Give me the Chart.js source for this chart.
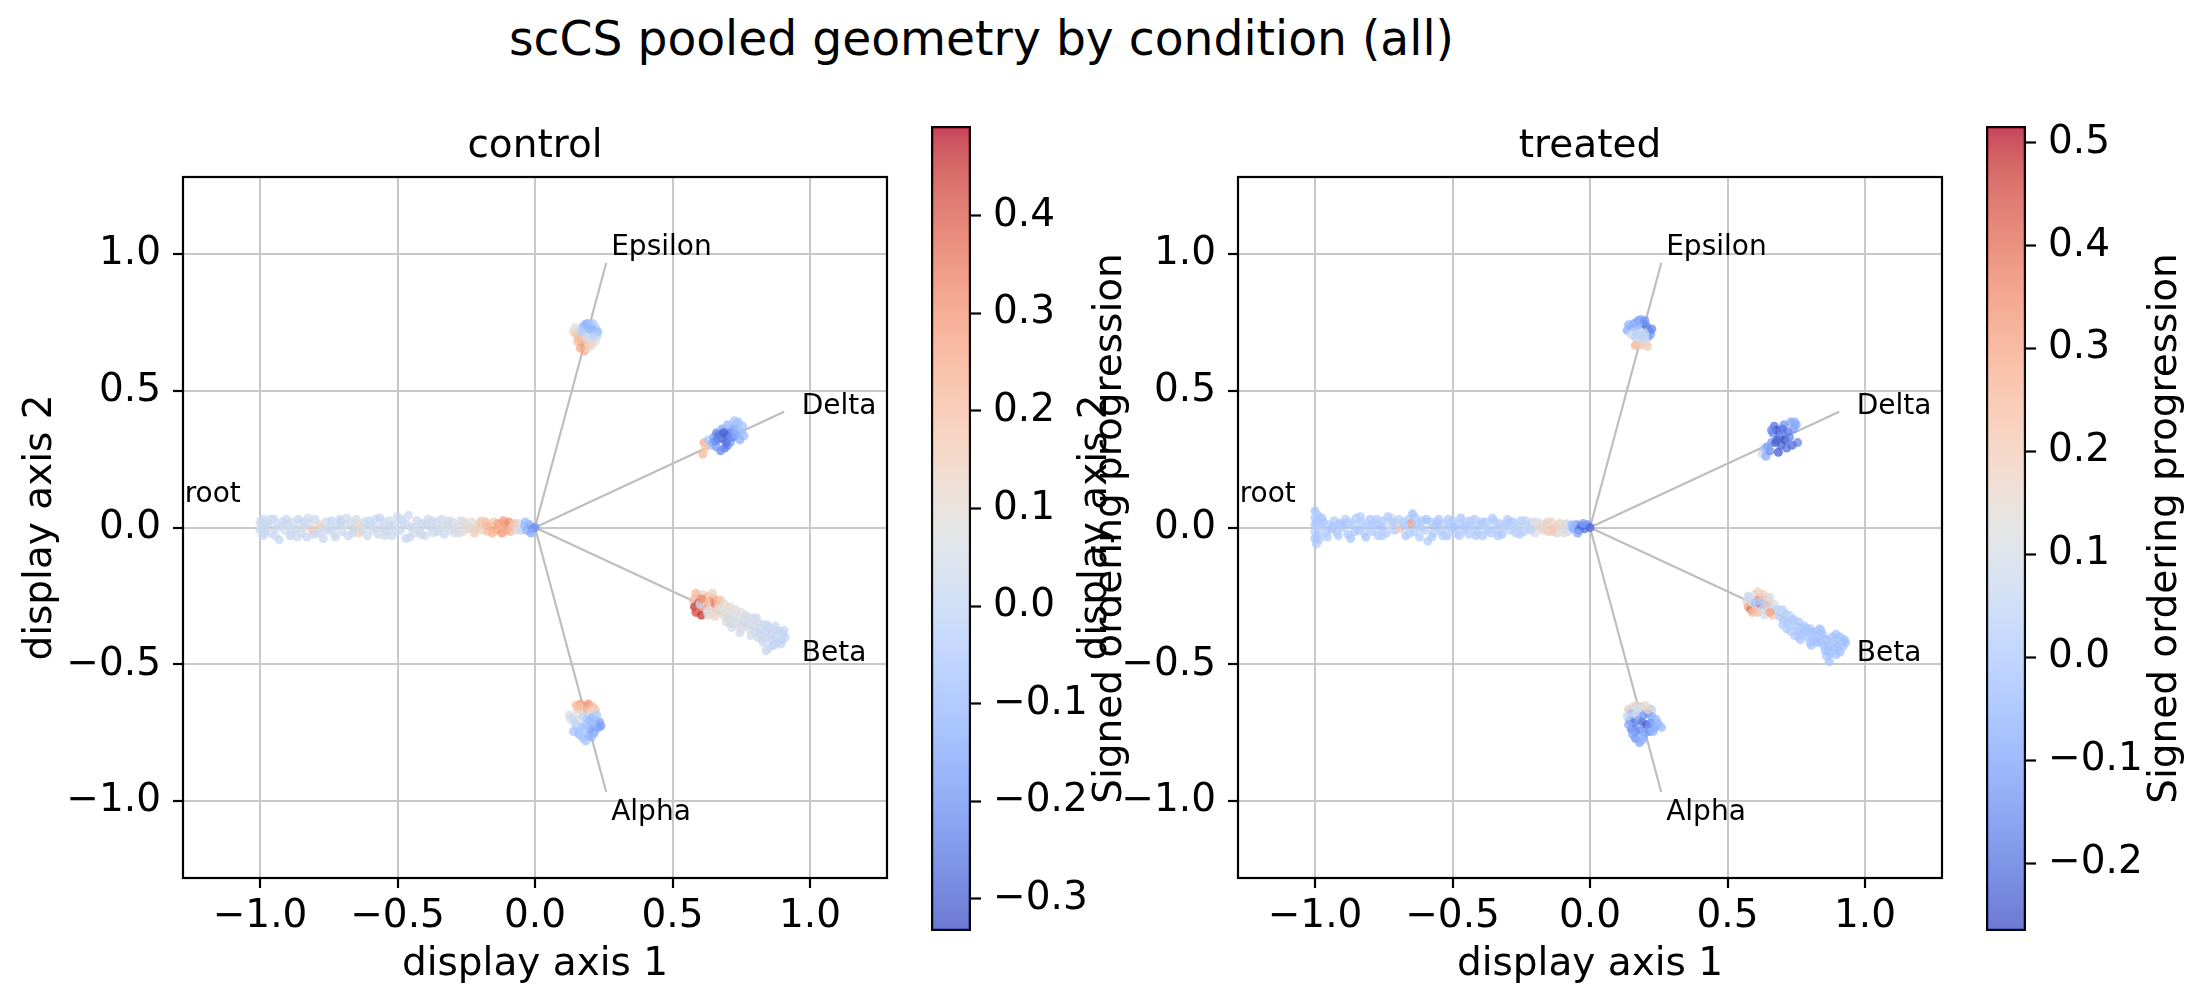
<!DOCTYPE html>
<html>
<head>
<meta charset="utf-8">
<script src="https://cdn.jsdelivr.net/npm/chart.js@4.4.1/dist/chart.umd.min.js"></script>
<style>
  html, body { margin: 0; padding: 0; background: #fff; }
  body { width: 2209px; height: 1007px; position: relative; overflow: hidden; font-family: 'DejaVu Sans'; }
  .box { position: absolute; top: 0; height: 1007px; }
  #suptitle { position: absolute; left: 509px; top: 15px; font-size: 47.2px; line-height: 47px; color: #000; white-space: nowrap; }
</style>
</head>
<body>
<div id="suptitle">scCS pooled geometry by condition (all)</div>
<div class="box" style="left:0;width:900px"><canvas id="ctrlPlot"></canvas></div>
<div class="box" style="left:931px;width:240px"><canvas id="ctrlBar"></canvas></div>
<div class="box" style="left:1055px;width:900px"><canvas id="trtPlot"></canvas></div>
<div class="box" style="left:1986px;width:223px"><canvas id="trtBar"></canvas></div>
<script>
// branches of the trajectory tree (end points and label anchors, display units)
const branchNames = ['root', 'Alpha', 'Beta', 'Delta', 'Epsilon'];
const branchEndX = [-1.0, 0.259, 0.906, 0.906, 0.259];
const branchEndY = [0.0, -0.966, -0.423, 0.423, 0.966];
const labelX = [-1.274, 0.277, 0.970, 0.970, 0.277];
const labelY = [0.12, -1.042, -0.462, 0.44, 1.02];

const axisTicks = [-1.0, -0.5, 0.0, 0.5, 1.0];
const ctrlRange = [-0.333, 0.492];
const trtRange = [-0.266, 0.516];
const ctrlBarTicks = [-0.3, -0.2, -0.1, 0.0, 0.1, 0.2, 0.3, 0.4];
const trtBarTicks = [-0.2, -0.1, 0.0, 0.1, 0.2, 0.3, 0.4, 0.5];

// cells: [display axis 1, display axis 2, signed ordering progression]
const ctrlRoot = [
  [-1.00,0.02,0.02],[-1.00,-0.01,0.03],[-0.99,0.03,0.01],[-0.99,-0.03,0.02],[-0.98,0.00,0.04],[-0.97,0.015,0.01],
  [-0.96,-0.02,0.03],[-0.95,0.03,0.00],[-0.94,0.00,0.02],[-0.93,-0.045,0.01],[-0.92,0.02,0.03],[-0.91,-0.01,0.05],
  [-0.90,0.01,0.02],[-0.89,-0.03,0.00],[-0.88,0.02,0.04],[-0.87,-0.005,0.02],[-0.86,0.03,0.01],[-0.85,-0.02,0.03],
  [-0.84,0.00,0.06],[-0.83,-0.035,0.01],[-0.82,0.015,0.02],[-0.81,-0.01,0.18],[-0.80,0.03,0.03],[-0.79,-0.02,0.02],
  [-0.78,0.00,0.05],[-0.77,-0.04,0.01],[-0.76,0.02,0.03],[-0.75,-0.01,0.02],[-0.74,0.025,0.00],[-0.73,-0.025,0.04],
  [-0.72,0.005,0.02],[-0.71,0.03,0.01],[-0.70,-0.015,0.03],[-0.69,0.01,0.06],[-0.68,-0.03,0.02],[-0.67,0.02,0.03],
  [-0.66,-0.005,0.01],[-0.65,0.03,0.04],[-0.64,-0.02,0.15],[-0.63,0.00,0.10],[-0.62,0.02,0.02],[-0.61,-0.03,0.03],
  [-0.60,0.01,0.01],[-0.59,-0.01,0.05],[-0.58,0.03,0.02],[-0.57,-0.025,0.03],[-0.56,0.00,0.04],[-0.55,0.02,0.02],
  [-0.54,-0.015,0.01],[-0.53,0.025,0.03],[-0.52,-0.03,0.02],[-0.51,0.01,0.05],[-0.50,0.04,0.03],[-0.49,-0.01,0.02],
  [-0.48,0.02,0.04],[-0.47,-0.04,0.01],[-0.46,0.045,0.03],[-0.45,0.00,0.02],[-0.44,-0.02,0.06],[-0.43,0.025,0.02],
  [-0.42,-0.01,0.03],[-0.41,0.015,0.01],[-0.40,-0.03,0.04],[-0.39,0.03,0.02],[-0.38,0.00,0.03],[-0.37,-0.02,0.05],
  [-0.36,0.02,0.02],[-0.35,-0.005,0.04],[-0.34,0.03,0.03],[-0.33,-0.025,0.02],[-0.32,0.01,0.05],[-0.31,-0.01,0.04],
  [-0.30,0.02,0.06],[-0.29,-0.02,0.03],[-0.28,0.005,0.08],[-0.27,0.025,0.05],[-0.26,-0.015,0.10],[-0.25,0.01,0.07],
  [-0.24,-0.005,0.12],[-0.23,0.02,0.09],[-0.22,-0.02,0.15],[-0.21,0.00,0.11],[-0.20,0.015,0.18],[-0.19,-0.01,0.14],
  [-0.18,0.02,0.22],[-0.17,-0.015,0.19],[-0.16,0.005,0.25],[-0.15,0.02,0.17],[-0.14,-0.01,0.27],[-0.13,0.01,0.22],
  [-0.12,-0.02,0.29],[-0.11,0.015,0.24],[-0.10,0.00,0.30],[-0.09,-0.015,0.21],[-0.08,0.01,0.26],[-0.07,-0.005,0.12],
  [-0.06,0.015,0.05],[-0.05,-0.01,-0.02],[-0.04,0.005,-0.08],[-0.03,-0.01,-0.12],[-0.02,0.01,-0.15],[-0.01,-0.005,-0.18],
  [0.00,0.00,-0.20],[-0.015,-0.02,-0.14],[-0.035,0.02,-0.10],
  [-0.995,0.00,0.02],[-0.985,-0.02,0.01],[-0.965,0.03,0.03],[-0.945,-0.03,0.02],[-0.925,0.005,0.04],[-0.905,0.03,0.01],
  [-0.885,-0.01,0.03],[-0.865,-0.035,0.02],[-0.845,0.02,0.01],[-0.825,0.035,0.03],[-0.805,-0.025,0.02],[-0.785,0.01,0.14],
  [-0.765,-0.01,0.04],[-0.745,0.00,0.02],[-0.725,-0.035,0.03],[-0.705,0.02,0.01],[-0.685,0.035,0.04],[-0.665,-0.02,0.02],
  [-0.645,0.01,0.12],[-0.625,-0.01,0.03],[-0.605,0.025,0.02],[-0.585,0.00,0.04],[-0.565,0.035,0.01],[-0.545,-0.03,0.03],
  [-0.525,0.005,0.02],[-0.505,-0.015,0.04],[-0.485,0.03,0.02],[-0.465,0.01,0.03],[-0.455,-0.035,0.02],[-0.435,0.00,0.05],
  [-0.415,-0.025,0.02],[-0.395,0.01,0.03],[-0.375,0.025,0.04],[-0.355,-0.015,0.02],[-0.335,0.005,0.05],[-0.315,0.025,0.03],
  [-0.295,-0.005,0.06],[-0.275,-0.02,0.07],[-0.255,0.02,0.09],[-0.235,0.00,0.10],[-0.215,-0.01,0.13],[-0.195,0.025,0.16],
  [-0.175,0.005,0.21],[-0.155,-0.02,0.23],[-0.135,0.015,0.26],[-0.115,0.025,0.28],[-0.105,-0.01,0.25],[-0.095,0.02,0.31],
  [-0.085,0.00,0.20],[-0.075,0.015,0.15],[-0.065,-0.01,0.06]
];
const ctrlEpsilon = [
  [0.14,0.715,0.12],[0.15,0.705,0.18],[0.16,0.72,0.05],[0.17,0.73,-0.05],[0.18,0.74,-0.10],[0.19,0.745,-0.12],
  [0.20,0.74,-0.08],[0.21,0.745,-0.06],[0.22,0.73,-0.04],[0.23,0.715,-0.02],[0.225,0.70,0.00],[0.21,0.72,-0.14],
  [0.19,0.725,-0.11],[0.18,0.71,-0.07],[0.20,0.71,-0.03],[0.17,0.70,0.08],[0.16,0.69,0.22],[0.17,0.675,0.28],
  [0.18,0.665,0.30],[0.19,0.68,0.15],[0.20,0.69,0.10],[0.21,0.685,0.05],[0.22,0.68,0.08],[0.18,0.645,0.25],
  [0.19,0.655,0.12],[0.205,0.665,0.14],[0.175,0.69,0.20],[0.195,0.70,0.02],
  [0.145,0.73,0.08],[0.155,0.68,0.20],[0.165,0.655,0.26],[0.225,0.715,-0.09],[0.20,0.725,-0.10],[0.185,0.695,0.05],
  [0.215,0.70,-0.02],[0.17,0.715,-0.03]
];
const ctrlDelta = [
  [0.615,0.31,0.25],[0.61,0.268,0.22],[0.63,0.32,-0.05],[0.64,0.30,-0.08],[0.65,0.33,-0.15],[0.66,0.345,-0.22],
  [0.67,0.34,-0.25],[0.68,0.325,-0.28],[0.69,0.35,-0.26],[0.70,0.335,-0.27],[0.71,0.345,-0.22],[0.72,0.36,-0.18],
  [0.73,0.375,-0.12],[0.74,0.385,-0.08],[0.735,0.355,-0.10],[0.75,0.35,-0.06],[0.76,0.335,-0.09],[0.745,0.32,-0.13],
  [0.70,0.30,-0.20],[0.69,0.29,-0.24],[0.675,0.28,-0.21],[0.66,0.295,-0.18],[0.645,0.31,-0.12],[0.71,0.31,-0.16],
  [0.72,0.33,-0.19],[0.68,0.36,-0.14],[0.70,0.375,-0.11],[0.725,0.39,-0.07],
  [0.62,0.29,0.18],[0.655,0.315,-0.20],[0.685,0.345,-0.29],[0.695,0.31,-0.26],[0.715,0.33,-0.21],[0.73,0.34,-0.14],
  [0.755,0.37,-0.07],[0.665,0.325,-0.23]
];
const ctrlBeta = [
  [0.575,-0.265,0.20],[0.58,-0.29,0.45],[0.585,-0.31,0.42],[0.59,-0.255,0.15],[0.595,-0.275,0.40],[0.60,-0.30,0.35],
  [0.605,-0.32,0.45],[0.61,-0.245,0.10],[0.615,-0.265,0.25],[0.62,-0.285,0.30],[0.625,-0.305,0.05],[0.63,-0.25,0.20],
  [0.635,-0.27,0.28],[0.64,-0.29,0.12],[0.645,-0.31,0.08],[0.65,-0.26,0.30],[0.655,-0.28,0.35],[0.66,-0.30,0.15],
  [0.665,-0.27,0.22],[0.67,-0.29,0.10],[0.60,-0.28,0.02],[0.62,-0.265,0.18],[0.645,-0.24,0.14],[0.675,-0.265,0.18],
  [0.68,-0.30,0.08],[0.69,-0.28,0.10],[0.70,-0.31,0.07],[0.70,-0.33,0.09],[0.71,-0.29,0.11],[0.72,-0.32,0.06],
  [0.72,-0.34,0.08],[0.73,-0.30,0.09],[0.74,-0.33,0.05],[0.74,-0.35,0.07],[0.75,-0.31,0.08],[0.76,-0.34,0.06],
  [0.76,-0.36,0.04],[0.77,-0.325,0.05],[0.78,-0.35,0.04],[0.78,-0.37,0.06],[0.79,-0.33,0.03],[0.80,-0.36,0.05],
  [0.80,-0.38,0.03],[0.81,-0.345,0.04],[0.82,-0.37,0.02],[0.82,-0.39,0.03],[0.83,-0.355,0.03],[0.84,-0.38,0.01],
  [0.84,-0.40,0.02],[0.85,-0.365,0.02],[0.86,-0.39,0.01],[0.86,-0.41,0.00],[0.87,-0.375,0.02],[0.88,-0.40,0.00],
  [0.88,-0.42,0.01],[0.89,-0.38,0.01],[0.90,-0.41,0.00],[0.90,-0.39,0.02],[0.91,-0.40,0.00],[0.87,-0.43,0.01],
  [0.85,-0.44,0.02],[0.83,-0.42,0.03],[0.81,-0.40,0.04],[0.75,-0.37,0.06],[0.73,-0.355,0.07],[0.71,-0.35,0.05],
  [0.585,-0.24,0.22],[0.605,-0.26,0.32],[0.63,-0.32,0.10],[0.655,-0.325,0.12],[0.685,-0.32,0.09],[0.695,-0.345,0.06],
  [0.715,-0.365,0.05],[0.745,-0.385,0.05],[0.765,-0.32,0.07],[0.785,-0.395,0.03],[0.805,-0.33,0.04],[0.825,-0.41,0.02],
  [0.845,-0.355,0.02],[0.865,-0.43,0.01],[0.875,-0.36,0.02],[0.895,-0.425,0.00],[0.905,-0.375,0.01],[0.84,-0.45,0.02]
];
const ctrlAlpha = [
  [0.15,-0.65,0.22],[0.165,-0.645,0.28],[0.18,-0.65,0.25],[0.195,-0.645,0.30],[0.21,-0.655,0.20],[0.22,-0.665,0.18],
  [0.155,-0.665,0.15],[0.17,-0.67,0.10],[0.19,-0.665,0.24],[0.205,-0.67,0.12],[0.125,-0.685,0.05],[0.14,-0.695,0.02],
  [0.16,-0.70,0.08],[0.175,-0.69,0.00],[0.19,-0.70,-0.05],[0.205,-0.695,-0.10],[0.22,-0.70,-0.08],[0.235,-0.71,-0.15],
  [0.23,-0.73,-0.18],[0.215,-0.725,-0.12],[0.20,-0.735,-0.14],[0.185,-0.72,-0.06],[0.17,-0.73,-0.09],[0.15,-0.725,-0.04],
  [0.14,-0.745,-0.07],[0.16,-0.755,-0.10],[0.175,-0.77,-0.08],[0.195,-0.76,-0.13],[0.215,-0.75,-0.16],[0.185,-0.78,-0.06],
  [0.13,-0.70,0.04],[0.145,-0.715,0.00],[0.225,-0.685,-0.05],[0.24,-0.725,-0.17],[0.205,-0.765,-0.11],[0.16,-0.655,0.20],
  [0.20,-0.705,-0.09],[0.17,-0.745,-0.05]
];

const trtRoot = [
  [-1.00,0.06,-0.02],[-1.00,0.035,0.00],[-1.00,0.01,-0.01],[-1.00,-0.015,0.01],[-1.00,-0.04,-0.02],[-0.995,-0.06,0.00],
  [-0.99,0.045,0.01],[-0.99,-0.03,-0.01],[-0.98,0.00,0.02],[-0.97,0.02,-0.01],[-0.96,-0.02,0.00],[-0.95,0.01,0.02],
  [-0.94,-0.005,-0.01],[-0.93,0.025,0.01],[-0.92,-0.02,0.00],[-0.91,0.015,-0.02],[-0.90,0.00,0.01],[-0.89,0.03,0.02],
  [-0.88,-0.025,0.00],[-0.87,-0.04,-0.01],[-0.86,0.01,0.02],[-0.85,0.035,0.01],[-0.84,-0.01,-0.01],[-0.83,0.02,0.00],
  [-0.82,-0.02,0.03],[-0.81,0.005,0.01],[-0.80,0.03,-0.01],[-0.79,-0.015,0.00],[-0.78,0.015,0.02],[-0.77,-0.03,0.01],
  [-0.76,0.00,-0.02],[-0.75,0.025,0.00],[-0.74,-0.02,0.02],[-0.73,0.01,0.08],[-0.72,0.035,0.12],[-0.71,-0.01,0.01],
  [-0.70,0.015,0.10],[-0.69,-0.005,0.22],[-0.68,0.02,0.02],[-0.67,-0.03,0.00],[-0.66,0.03,0.01],[-0.65,0.015,0.32],
  [-0.645,0.05,-0.03],[-0.64,-0.015,0.02],[-0.63,0.01,0.00],[-0.62,-0.035,0.01],[-0.61,0.025,-0.01],[-0.60,-0.01,0.03],
  [-0.59,-0.05,0.01],[-0.58,0.02,0.00],[-0.57,-0.02,0.02],[-0.56,0.005,-0.01],[-0.55,0.03,0.01],[-0.54,-0.015,0.00],
  [-0.53,0.015,0.02],[-0.52,-0.03,-0.01],[-0.51,0.00,0.01],[-0.50,0.025,0.00],[-0.49,-0.02,0.02],[-0.48,0.01,0.01],
  [-0.47,0.035,-0.01],[-0.46,-0.01,0.00],[-0.45,0.02,0.02],[-0.44,-0.025,0.01],[-0.43,0.005,0.00],[-0.42,0.03,0.01],
  [-0.41,-0.015,-0.01],[-0.40,0.01,0.02],[-0.39,-0.03,0.00],[-0.38,0.02,0.01],[-0.37,0.00,0.03],[-0.36,-0.02,0.01],
  [-0.35,0.025,0.00],[-0.34,-0.005,0.02],[-0.33,0.015,0.01],[-0.32,-0.025,0.00],[-0.31,0.01,0.02],[-0.30,0.03,0.01],
  [-0.29,-0.01,0.03],[-0.28,0.02,0.00],[-0.27,-0.02,0.02],[-0.26,0.005,0.04],[-0.25,0.025,0.01],[-0.24,-0.015,0.03],
  [-0.23,0.01,0.06],[-0.22,-0.005,0.02],[-0.21,0.02,0.08],[-0.20,-0.02,0.10],[-0.19,0.005,0.14],[-0.18,0.015,0.12],
  [-0.17,-0.01,0.18],[-0.16,0.01,0.15],[-0.15,-0.015,0.20],[-0.14,0.02,0.17],[-0.13,0.00,0.22],[-0.12,-0.02,0.14],
  [-0.11,0.015,0.19],[-0.10,-0.005,0.12],[-0.09,0.01,0.16],[-0.08,-0.015,0.08],[-0.07,0.005,0.02],[-0.06,-0.005,-0.08],
  [-0.05,0.01,-0.15],[-0.04,-0.01,-0.18],[-0.03,0.005,-0.22],[-0.02,-0.005,-0.20],[-0.01,0.01,-0.16],[0.00,0.00,-0.22],
  [-0.025,0.015,-0.12],[-0.045,-0.02,-0.10],
  [-0.995,0.02,0.00],[-0.985,-0.045,0.01],[-0.975,0.035,-0.01],[-0.955,-0.035,0.01],[-0.935,0.00,0.00],[-0.915,-0.03,0.02],
  [-0.895,0.015,-0.01],[-0.875,0.02,0.01],[-0.855,-0.015,0.00],[-0.835,0.04,0.02],[-0.815,-0.035,-0.01],[-0.795,0.01,0.01],
  [-0.775,0.03,0.00],[-0.755,-0.03,0.02],[-0.735,0.04,0.01],[-0.715,0.02,0.00],[-0.695,0.03,0.03],[-0.675,0.005,0.01],
  [-0.655,-0.02,0.02],[-0.635,0.035,0.00],[-0.615,0.00,0.02],[-0.595,0.03,-0.01],[-0.575,-0.035,0.01],[-0.555,0.02,0.00],
  [-0.535,-0.03,0.02],[-0.515,0.03,0.01],[-0.495,0.00,-0.01],[-0.475,-0.03,0.01],[-0.455,0.005,0.00],[-0.435,0.025,0.02],
  [-0.415,-0.03,0.01],[-0.395,0.02,0.00],[-0.375,-0.01,0.02],[-0.355,0.035,0.01],[-0.335,-0.03,0.00],[-0.315,0.00,0.02],
  [-0.295,0.02,0.01],[-0.275,0.00,0.03],[-0.255,-0.025,0.02],[-0.235,0.025,0.04],[-0.215,-0.01,0.06],[-0.195,0.02,0.12],
  [-0.175,0.00,0.16],[-0.155,0.02,0.18],[-0.135,-0.015,0.20],[-0.115,0.005,0.15],[-0.095,-0.02,0.13],[-0.085,0.015,0.10],
  [-0.065,0.01,-0.04]
];
const trtEpsilon = [
  [0.135,0.72,-0.08],[0.15,0.73,-0.05],[0.16,0.745,-0.10],[0.175,0.755,-0.12],[0.185,0.76,-0.09],[0.195,0.745,-0.15],
  [0.205,0.735,-0.18],[0.215,0.72,-0.14],[0.22,0.705,-0.12],[0.21,0.695,-0.10],[0.17,0.72,-0.02],[0.185,0.71,0.10],
  [0.20,0.71,0.05],[0.15,0.705,0.08],[0.165,0.695,0.02],[0.18,0.685,0.12],[0.195,0.69,0.00],[0.205,0.675,0.15],
  [0.165,0.665,0.28],[0.21,0.66,0.18],[0.19,0.675,0.10],[0.175,0.74,-0.06],
  [0.14,0.74,-0.07],[0.20,0.755,-0.13],[0.225,0.725,-0.16],[0.17,0.705,0.04],[0.185,0.665,0.20],[0.20,0.695,0.06]
];
const trtDelta = [
  [0.625,0.27,0.08],[0.635,0.29,-0.02],[0.64,0.26,-0.08],[0.655,0.28,-0.15],[0.66,0.31,-0.12],[0.665,0.345,-0.14],
  [0.67,0.37,-0.20],[0.68,0.355,-0.26],[0.69,0.33,-0.18],[0.695,0.30,-0.22],[0.70,0.345,-0.15],[0.71,0.32,-0.27],
  [0.715,0.29,-0.20],[0.72,0.35,-0.18],[0.73,0.385,-0.10],[0.74,0.36,-0.12],[0.75,0.375,-0.09],[0.755,0.31,-0.16],
  [0.735,0.30,-0.21],[0.685,0.275,-0.24],[0.675,0.31,-0.23],[0.705,0.375,-0.13],
  [0.645,0.295,-0.10],[0.68,0.32,-0.22],[0.70,0.36,-0.19],[0.725,0.33,-0.17],[0.745,0.385,-0.08],[0.66,0.355,-0.16]
];
const trtBeta = [
  [0.57,-0.27,0.10],[0.575,-0.29,0.30],[0.58,-0.255,0.05],[0.585,-0.30,0.40],[0.59,-0.275,0.15],[0.60,-0.245,0.12],
  [0.605,-0.29,0.20],[0.61,-0.31,0.25],[0.615,-0.26,0.35],[0.62,-0.28,0.45],[0.625,-0.30,0.08],[0.63,-0.245,0.20],
  [0.635,-0.265,0.30],[0.64,-0.285,0.00],[0.645,-0.305,0.18],[0.65,-0.275,0.25],[0.655,-0.255,0.10],[0.66,-0.295,0.05],
  [0.665,-0.32,0.22],[0.67,-0.28,0.12],[0.60,-0.275,-0.02],[0.625,-0.27,0.02],[0.645,-0.255,0.15],
  [0.68,-0.30,0.04],[0.69,-0.325,0.02],[0.70,-0.30,0.03],[0.705,-0.34,0.01],[0.71,-0.315,0.02],[0.72,-0.345,0.00],
  [0.725,-0.32,0.03],[0.73,-0.36,0.01],[0.74,-0.335,0.00],[0.75,-0.36,0.02],[0.755,-0.38,-0.01],[0.76,-0.345,0.00],
  [0.77,-0.37,0.01],[0.775,-0.39,-0.02],[0.78,-0.36,0.00],[0.79,-0.38,-0.01],[0.795,-0.40,0.00],[0.80,-0.37,-0.02],
  [0.81,-0.39,0.00],[0.815,-0.41,-0.01],[0.82,-0.38,-0.02],[0.83,-0.40,0.00],[0.84,-0.42,-0.02],[0.845,-0.39,-0.01],
  [0.85,-0.43,0.00],[0.86,-0.41,-0.02],[0.865,-0.45,-0.01],[0.87,-0.43,-0.03],[0.88,-0.40,-0.01],[0.885,-0.44,-0.02],
  [0.89,-0.415,0.00],[0.90,-0.45,-0.01],[0.905,-0.43,-0.03],[0.91,-0.40,-0.02],[0.92,-0.435,-0.01],[0.93,-0.42,-0.02],
  [0.86,-0.47,-0.01],[0.87,-0.49,-0.02],[0.84,-0.375,-0.01],[0.895,-0.39,-0.02],[0.76,-0.40,0.01],[0.73,-0.38,0.02],
  [0.80,-0.42,-0.01],
  [0.575,-0.25,0.08],[0.59,-0.31,0.25],[0.61,-0.235,0.18],[0.635,-0.32,0.10],[0.655,-0.31,0.30],[0.69,-0.30,0.05],
  [0.70,-0.355,0.02],[0.715,-0.37,0.01],[0.735,-0.34,0.02],[0.745,-0.395,0.00],[0.765,-0.41,0.00],[0.785,-0.37,-0.01],
  [0.805,-0.43,-0.01],[0.825,-0.42,-0.02],[0.835,-0.37,-0.01],[0.855,-0.45,-0.02],[0.875,-0.46,-0.02],[0.895,-0.465,-0.01],
  [0.91,-0.455,-0.02],[0.925,-0.41,-0.03]
];
const trtAlpha = [
  [0.14,-0.665,0.22],[0.155,-0.655,0.10],[0.17,-0.65,0.20],[0.185,-0.655,0.05],[0.20,-0.65,0.15],[0.215,-0.66,0.12],
  [0.225,-0.665,0.05],[0.15,-0.68,-0.05],[0.165,-0.685,0.08],[0.18,-0.675,0.02],[0.195,-0.685,-0.10],[0.21,-0.68,-0.14],
  [0.225,-0.69,-0.08],[0.24,-0.70,-0.05],[0.25,-0.72,-0.06],[0.26,-0.73,-0.04],[0.145,-0.705,-0.15],[0.16,-0.715,-0.20],
  [0.175,-0.705,-0.12],[0.19,-0.71,-0.18],[0.205,-0.72,-0.22],[0.22,-0.715,-0.15],[0.235,-0.73,-0.10],[0.15,-0.735,-0.18],
  [0.165,-0.745,-0.12],[0.18,-0.74,-0.15],[0.20,-0.75,-0.10],[0.215,-0.745,-0.13],[0.165,-0.77,-0.14],[0.18,-0.785,-0.10],
  [0.195,-0.765,-0.08],
  [0.135,-0.69,0.05],[0.14,-0.72,-0.08],[0.245,-0.715,-0.04],[0.23,-0.745,-0.07],[0.19,-0.775,-0.06],[0.21,-0.665,0.18],
  [0.175,-0.66,0.12],[0.155,-0.755,-0.10]
];

// matplotlib "coolwarm"
const coolwarm = [
  [59,76,192],[68,90,204],[77,104,215],[87,117,225],[98,130,234],[108,142,241],[119,154,247],[130,165,251],
  [141,176,254],[152,185,255],[163,194,255],[174,201,253],[184,208,249],[194,213,244],[204,217,238],[213,219,230],
  [221,221,221],[229,216,209],[236,211,197],[241,204,184],[245,196,172],[247,187,159],[247,177,147],[247,166,134],
  [244,154,123],[241,141,111],[236,127,99],[229,112,89],[222,96,78],[213,80,69],[203,62,56],[192,40,47],[180,4,38]
];
const ALPHA = 0.75;

function cmap(t, a) {
  t = Math.min(1, Math.max(0, t));
  const n = coolwarm.length - 1;
  const f = t * n;
  const i = Math.min(n - 1, Math.floor(f));
  const u = f - i;
  const c0 = coolwarm[i], c1 = coolwarm[i + 1];
  const r = Math.round(c0[0] + (c1[0] - c0[0]) * u);
  const g = Math.round(c0[1] + (c1[1] - c0[1]) * u);
  const b = Math.round(c0[2] + (c1[2] - c0[2]) * u);
  return `rgba(${r},${g},${b},${a})`;
}

function fmt(v) {
  const s = Math.abs(v).toFixed(1);
  return v < -1e-9 ? '\u2212' + s : s;
}

Chart.defaults.font.family = "'DejaVu Sans'";
Chart.defaults.color = '#000';

// black outline round the plot area
const framePlugin = {
  id: 'frame',
  afterDraw(chart) {
    const a = chart.chartArea, ctx = chart.ctx;
    ctx.save();
    ctx.strokeStyle = '#000';
    ctx.lineWidth = 2.2;
    ctx.strokeRect(a.left, a.top, a.right - a.left, a.bottom - a.top);
    ctx.restore();
  }
};

// branch names next to the ends of the lines
const branchLabelPlugin = {
  id: 'branchLabels',
  afterDatasetsDraw(chart) {
    const ctx = chart.ctx, xs = chart.scales.x, ys = chart.scales.y;
    ctx.save();
    ctx.font = "28px 'DejaVu Sans'";
    ctx.fillStyle = '#000';
    ctx.textAlign = 'left';
    ctx.textBaseline = 'middle';
    branchNames.forEach((name, i) => {
      ctx.fillText(name, xs.getPixelForValue(labelX[i]), ys.getPixelForValue(labelY[i]));
    });
    ctx.restore();
  }
};

// colorbar label, reading bottom to top
const cbLabelPlugin = {
  id: 'cbLabel',
  afterDraw(chart, args, opts) {
    const a = chart.chartArea, ctx = chart.ctx;
    ctx.save();
    ctx.translate(a.right + opts.offset, (a.top + a.bottom) / 2);
    ctx.rotate(-Math.PI / 2);
    ctx.font = "39px 'DejaVu Sans'";
    ctx.fillStyle = '#000';
    ctx.textAlign = 'center';
    ctx.textBaseline = 'middle';
    ctx.fillText(opts.text, 0, 0);
    ctx.restore();
  }
};

function scatterChart(id, title, pts, range) {
  const [vmin, vmax] = range;
  const lines = branchNames.map((name, i) => ({
    label: name,
    data: [{x: 0, y: 0}, {x: branchEndX[i], y: branchEndY[i]}],
    showLine: true,
    borderColor: 'rgb(190,190,190)',
    borderWidth: 2.2,
    pointRadius: 0,
    order: 2
  }));
  return new Chart(document.getElementById(id), {
    type: 'scatter',
    data: {
      datasets: [{
        label: title,
        data: pts.map(p => ({x: p[0], y: p[1]})),
        backgroundColor: pts.map(p => cmap((p[2] - vmin) / (vmax - vmin), ALPHA)),
        pointRadius: 4.5,
        pointHoverRadius: 4.5,
        pointBorderWidth: 0,
        order: 1
      }, ...lines]
    },
    options: {
      responsive: true,
      maintainAspectRatio: false,
      animation: false,
      devicePixelRatio: 1,
      events: [],
      layout: {padding: {top: 123.1, left: 0, right: 13, bottom: 0}},
      plugins: {
        legend: {display: false},
        tooltip: {enabled: false},
        title: {
          display: true, text: title, fullSize: false, color: '#000',
          font: {size: 39, weight: 'normal'}, padding: {top: 0, bottom: 7.1}
        }
      },
      scales: {
        x: {
          type: 'linear', position: 'bottom', min: -1.28, max: 1.28,
          afterBuildTicks: s => { s.ticks = axisTicks.map(v => ({value: v})); },
          afterFit: s => { s.height = 129; s.paddingLeft = 0; s.paddingRight = 0; },
          ticks: {padding: 5, font: {size: 39}, color: '#000', callback: fmt, maxRotation: 0, autoSkip: false},
          grid: {color: '#c8c8c8', lineWidth: 2, drawTicks: true, tickLength: 10, tickColor: '#000', tickWidth: 2.2},
          border: {display: false},
          title: {display: true, text: 'display axis 1', color: '#000', font: {size: 39}, padding: {top: 0, bottom: 19.1}}
        },
        y: {
          type: 'linear', position: 'left', min: -1.28, max: 1.28,
          afterBuildTicks: s => { s.ticks = axisTicks.map(v => ({value: v})); },
          afterFit: s => { s.width = 183; s.paddingTop = 0; s.paddingBottom = 0; },
          ticks: {padding: 12, font: {size: 39}, color: '#000', callback: fmt, autoSkip: false},
          grid: {color: '#c8c8c8', lineWidth: 2, drawTicks: true, tickLength: 10, tickColor: '#000', tickWidth: 2.2},
          border: {display: false},
          title: {display: true, text: 'display axis 2', color: '#000', font: {size: 39}, padding: {top: 17.6, bottom: 0}}
        }
      }
    },
    plugins: [framePlugin, branchLabelPlugin]
  });
}

function colorbarChart(id, range, barTicks, axisWidth) {
  const [vmin, vmax] = range;
  return new Chart(document.getElementById(id), {
    type: 'bar',
    data: {
      labels: [''],
      datasets: [{
        data: [[vmin, vmax]],
        backgroundColor: ctx => {
          const chart = ctx.chart, ys = chart.scales.y;
          if (!chart.chartArea || !ys) return cmap(0.5, ALPHA);
          const g = chart.ctx.createLinearGradient(0, ys.getPixelForValue(vmin), 0, ys.getPixelForValue(vmax));
          coolwarm.forEach((c, i) => g.addColorStop(i / (coolwarm.length - 1), cmap(i / (coolwarm.length - 1), ALPHA)));
          return g;
        },
        borderColor: '#000',
        borderWidth: 2.2,
        borderSkipped: false,
        barPercentage: 1,
        categoryPercentage: 1
      }]
    },
    options: {
      responsive: true,
      maintainAspectRatio: false,
      animation: false,
      devicePixelRatio: 1,
      events: [],
      layout: {padding: {top: 126, left: 0, right: 0, bottom: 76}},
      plugins: {
        legend: {display: false},
        tooltip: {enabled: false},
        cbLabel: {text: 'Signed ordering progression', offset: 140}
      },
      scales: {
        x: {display: false},
        y: {
          type: 'linear', position: 'right', min: vmin, max: vmax,
          afterBuildTicks: s => { s.ticks = barTicks.map(v => ({value: v})); },
          afterFit: s => { s.width = axisWidth; s.paddingTop = 0; s.paddingBottom = 0; },
          ticks: {padding: 12, font: {size: 39}, color: '#000', callback: fmt, autoSkip: false},
          grid: {drawOnChartArea: false, drawTicks: true, tickLength: 10, tickColor: '#000', tickWidth: 2.2},
          border: {display: false}
        }
      }
    },
    plugins: [cbLabelPlugin]
  });
}

const ctrlPoints = [].concat(ctrlRoot, ctrlAlpha, ctrlBeta, ctrlDelta, ctrlEpsilon);
const trtPoints = [].concat(trtRoot, trtAlpha, trtBeta, trtDelta, trtEpsilon);

scatterChart('ctrlPlot', 'control', ctrlPoints, ctrlRange);
colorbarChart('ctrlBar', ctrlRange, ctrlBarTicks, 200);
scatterChart('trtPlot', 'treated', trtPoints, trtRange);
colorbarChart('trtBar', trtRange, trtBarTicks, 183);
</script>
</body>
</html>
